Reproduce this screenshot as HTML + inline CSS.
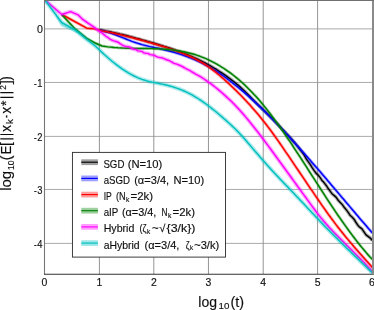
<!DOCTYPE html>
<html><head><meta charset="utf-8"><style>html,body{margin:0;padding:0;background:#fff;}svg{display:block;will-change:transform;}text{font-family:"Liberation Sans",sans-serif;fill:#111;stroke:#111;stroke-width:0.15px;}</style></head><body>
<svg width="374" height="310" viewBox="0 0 374 310">
<defs><filter id="bl" x="-5" y="-5" width="384" height="320" filterUnits="userSpaceOnUse"><feGaussianBlur stdDeviation="0.35"/></filter></defs><rect width="374" height="310" fill="#fff"/><g filter="url(#bl)"><rect x="-5" y="-5" width="384" height="320" fill="#fff"/>
<path d="M44.5,28.90 H373.0 M44.5,82.45 H373.0 M44.5,136.40 H373.0 M44.5,189.45 H373.0 M44.5,243.40 H373.0" stroke="#aaaaaa" stroke-width="1" fill="none"/>
<path d="M99.40,0.5 V274.2 M153.80,0.5 V274.2 M208.45,0.5 V274.2 M263.20,0.5 V274.2 M317.60,0.5 V274.2" stroke="#949494" stroke-width="1" fill="none"/>
<clipPath id="c"><rect x="44.5" y="0" width="328.1" height="274.2"/></clipPath>
<g clip-path="url(#c)" fill="none" stroke-linejoin="round" stroke-linecap="butt">
<path d="M99.4,29.8 L102.0,30.3 L104.0,30.7 L106.0,31.1 L108.0,31.4 L110.0,31.8 L112.0,32.3 L114.0,32.7 L116.0,33.1 L118.0,33.6 L120.0,34.1 L122.0,34.5 L124.0,35.0 L126.0,35.5 L128.0,36.0 L130.0,36.6 L132.0,37.1 L134.0,37.6 L136.0,38.2 L138.0,38.7 L140.0,39.3 L142.0,39.9 L144.0,40.4 L146.0,41.0 L148.0,41.6 L150.0,42.1 L152.0,42.7 L154.0,43.3 L156.0,43.9 L158.0,44.5 L160.0,45.1 L162.0,45.7 L164.0,46.4 L166.0,47.0 L168.0,47.6 L170.0,48.3 L172.0,49.0 L174.0,49.7 L176.0,50.4 L178.0,51.1 L180.0,51.8 L182.0,52.6 L184.0,53.4 L186.0,54.2 L188.0,55.0 L190.0,55.8 L192.0,56.7 L194.0,57.6 L196.0,58.5 L198.0,59.4 L200.0,60.4 L202.0,61.4 L204.0,62.4 L206.0,63.5 L208.0,64.6 L210.0,65.7 L212.0,66.8 L214.0,68.0 L216.0,69.2 L218.0,70.5 L220.0,71.8 L222.0,73.1 L224.0,74.4 L226.0,75.8 L228.0,77.3 L230.0,78.8 L232.0,80.3 L234.0,81.9 L236.0,83.5 L238.0,85.1 L240.0,86.9 L242.0,88.7 L244.0,90.5 L246.0,92.5 L248.0,94.5 L250.0,96.6 L252.0,98.7 L254.0,100.7 L256.0,102.7 L258.0,104.7 L260.0,106.6 L262.0,108.6 L264.0,110.5 L266.0,112.4 L268.0,114.4 L270.0,116.4 L272.0,118.4 L274.0,120.4 L276.0,122.5 L278.0,124.6 L280.0,126.7 L282.0,128.9 L284.0,131.0 L286.0,133.2 L288.0,135.3 L290.0,137.5 L292.0,139.7 L294.0,142.0 L296.0,144.4 L298.0,146.9 L300.0,149.6 L302.0,152.1 L304.0,154.7 L306.0,158.4 L308.0,161.4 L310.0,164.1 L312.0,167.3 L314.0,170.3 L316.0,173.1 L318.0,175.0 L320.0,177.4 L322.0,180.4 L324.0,182.6 L326.0,185.2 L328.0,188.2 L330.0,190.9 L332.0,193.7 L334.0,195.4 L336.0,197.1 L338.0,200.0 L340.0,202.3 L342.0,204.2 L344.0,207.1 L346.0,209.4 L348.0,212.1 L350.0,215.2 L352.0,217.0 L354.0,219.2 L356.0,222.5 L358.0,225.4 L360.0,227.4 L362.0,228.9 L364.0,231.9 L366.0,234.8 L368.0,236.3 L370.0,237.8 L372.0,240.1 L372.4,240.5" stroke="#000000" stroke-opacity="0.32" stroke-width="3.6"/>
<path d="M99.4,29.8 L102.0,30.3 L104.0,30.7 L106.0,31.1 L108.0,31.4 L110.0,31.8 L112.0,32.3 L114.0,32.7 L116.0,33.1 L118.0,33.6 L120.0,34.1 L122.0,34.5 L124.0,35.0 L126.0,35.5 L128.0,36.0 L130.0,36.6 L132.0,37.1 L134.0,37.6 L136.0,38.2 L138.0,38.7 L140.0,39.3 L142.0,39.9 L144.0,40.4 L146.0,41.0 L148.0,41.6 L150.0,42.1 L152.0,42.7 L154.0,43.3 L156.0,43.9 L158.0,44.5 L160.0,45.1 L162.0,45.7 L164.0,46.4 L166.0,47.0 L168.0,47.6 L170.0,48.3 L172.0,49.0 L174.0,49.7 L176.0,50.4 L178.0,51.1 L180.0,51.8 L182.0,52.6 L184.0,53.4 L186.0,54.2 L188.0,55.0 L190.0,55.8 L192.0,56.7 L194.0,57.6 L196.0,58.5 L198.0,59.4 L200.0,60.4 L202.0,61.4 L204.0,62.4 L206.0,63.5 L208.0,64.6 L210.0,65.7 L212.0,66.8 L214.0,68.0 L216.0,69.2 L218.0,70.5 L220.0,71.8 L222.0,73.1 L224.0,74.4 L226.0,75.8 L228.0,77.3 L230.0,78.8 L232.0,80.3 L234.0,81.9 L236.0,83.5 L238.0,85.1 L240.0,86.9 L242.0,88.7 L244.0,90.5 L246.0,92.5 L248.0,94.5 L250.0,96.6 L252.0,98.7 L254.0,100.7 L256.0,102.7 L258.0,104.7 L260.0,106.6 L262.0,108.6 L264.0,110.5 L266.0,112.4 L268.0,114.4 L270.0,116.4 L272.0,118.4 L274.0,120.4 L276.0,122.5 L278.0,124.6 L280.0,126.7 L282.0,128.9 L284.0,131.0 L286.0,133.2 L288.0,135.3 L290.0,137.5 L292.0,139.7 L294.0,142.0 L296.0,144.4 L298.0,146.9 L300.0,149.6 L302.0,152.1 L304.0,154.7 L306.0,158.4 L308.0,161.4 L310.0,164.1 L312.0,167.3 L314.0,170.3 L316.0,173.1 L318.0,175.0 L320.0,177.4 L322.0,180.4 L324.0,182.6 L326.0,185.2 L328.0,188.2 L330.0,190.9 L332.0,193.7 L334.0,195.4 L336.0,197.1 L338.0,200.0 L340.0,202.3 L342.0,204.2 L344.0,207.1 L346.0,209.4 L348.0,212.1 L350.0,215.2 L352.0,217.0 L354.0,219.2 L356.0,222.5 L358.0,225.4 L360.0,227.4 L362.0,228.9 L364.0,231.9 L366.0,234.8 L368.0,236.3 L370.0,237.8 L372.0,240.1 L372.4,240.5" stroke="#000000" stroke-width="1.45"/>
<path d="M99.4,30.3 L102.0,30.7 L104.0,31.1 L106.0,31.7 L108.0,32.2 L110.0,32.9 L112.0,33.6 L114.0,34.3 L116.0,35.0 L118.0,35.8 L120.0,36.6 L122.0,37.4 L124.0,38.2 L126.0,39.0 L128.0,39.8 L130.0,40.6 L132.0,41.4 L134.0,42.1 L136.0,42.8 L138.0,43.4 L140.0,44.0 L142.0,44.6 L144.0,45.1 L146.0,45.6 L148.0,46.1 L150.0,46.6 L152.0,47.0 L154.0,47.5 L156.0,47.9 L158.0,48.3 L160.0,48.8 L162.0,49.2 L164.0,49.7 L166.0,50.2 L168.0,50.7 L170.0,51.2 L172.0,51.7 L174.0,52.3 L176.0,52.9 L178.0,53.5 L180.0,54.1 L182.0,54.8 L184.0,55.5 L186.0,56.2 L188.0,57.0 L190.0,57.7 L192.0,58.6 L194.0,59.4 L196.0,60.3 L198.0,61.2 L200.0,62.1 L202.0,63.1 L204.0,64.2 L206.0,65.2 L208.0,66.3 L210.0,67.5 L212.0,68.7 L214.0,69.9 L216.0,71.1 L218.0,72.4 L220.0,73.8 L222.0,75.1 L224.0,76.5 L226.0,78.0 L228.0,79.5 L230.0,81.0 L232.0,82.5 L234.0,84.1 L236.0,85.7 L238.0,87.3 L240.0,88.9 L242.0,90.6 L244.0,92.3 L246.0,94.1 L248.0,95.8 L250.0,97.6 L252.0,99.4 L254.0,101.2 L256.0,103.1 L258.0,105.0 L260.0,106.9 L262.0,108.8 L264.0,110.7 L266.0,112.7 L268.0,114.7 L270.0,116.7 L272.0,118.7 L274.0,120.7 L276.0,122.8 L278.0,124.9 L280.0,127.0 L282.0,129.1 L284.0,131.2 L286.0,133.4 L288.0,135.5 L290.0,137.7 L292.0,139.9 L294.0,142.1 L296.0,144.3 L298.0,146.5 L300.0,148.7 L302.0,151.0 L304.0,153.2 L306.0,155.5 L308.0,157.8 L310.0,160.1 L312.0,162.4 L314.0,164.7 L316.0,167.0 L318.0,169.3 L320.0,171.6 L322.0,173.9 L324.0,176.3 L326.0,178.6 L328.0,181.0 L330.0,183.3 L332.0,185.7 L334.0,188.0 L336.0,190.4 L338.0,192.7 L340.0,195.1 L342.0,197.5 L344.0,199.8 L346.0,202.2 L348.0,204.5 L350.0,206.9 L352.0,209.3 L354.0,211.6 L356.0,214.0 L358.0,216.3 L360.0,218.7 L362.0,221.0 L364.0,223.3 L366.0,225.6 L368.0,228.0 L370.0,230.3 L372.0,232.6 L372.4,233.0" stroke="#0000ff" stroke-opacity="0.32" stroke-width="3.2"/>
<path d="M99.4,30.3 L102.0,30.7 L104.0,31.1 L106.0,31.7 L108.0,32.2 L110.0,32.9 L112.0,33.6 L114.0,34.3 L116.0,35.0 L118.0,35.8 L120.0,36.6 L122.0,37.4 L124.0,38.2 L126.0,39.0 L128.0,39.8 L130.0,40.6 L132.0,41.4 L134.0,42.1 L136.0,42.8 L138.0,43.4 L140.0,44.0 L142.0,44.6 L144.0,45.1 L146.0,45.6 L148.0,46.1 L150.0,46.6 L152.0,47.0 L154.0,47.5 L156.0,47.9 L158.0,48.3 L160.0,48.8 L162.0,49.2 L164.0,49.7 L166.0,50.2 L168.0,50.7 L170.0,51.2 L172.0,51.7 L174.0,52.3 L176.0,52.9 L178.0,53.5 L180.0,54.1 L182.0,54.8 L184.0,55.5 L186.0,56.2 L188.0,57.0 L190.0,57.7 L192.0,58.6 L194.0,59.4 L196.0,60.3 L198.0,61.2 L200.0,62.1 L202.0,63.1 L204.0,64.2 L206.0,65.2 L208.0,66.3 L210.0,67.5 L212.0,68.7 L214.0,69.9 L216.0,71.1 L218.0,72.4 L220.0,73.8 L222.0,75.1 L224.0,76.5 L226.0,78.0 L228.0,79.5 L230.0,81.0 L232.0,82.5 L234.0,84.1 L236.0,85.7 L238.0,87.3 L240.0,88.9 L242.0,90.6 L244.0,92.3 L246.0,94.1 L248.0,95.8 L250.0,97.6 L252.0,99.4 L254.0,101.2 L256.0,103.1 L258.0,105.0 L260.0,106.9 L262.0,108.8 L264.0,110.7 L266.0,112.7 L268.0,114.7 L270.0,116.7 L272.0,118.7 L274.0,120.7 L276.0,122.8 L278.0,124.9 L280.0,127.0 L282.0,129.1 L284.0,131.2 L286.0,133.4 L288.0,135.5 L290.0,137.7 L292.0,139.9 L294.0,142.1 L296.0,144.3 L298.0,146.5 L300.0,148.7 L302.0,151.0 L304.0,153.2 L306.0,155.5 L308.0,157.8 L310.0,160.1 L312.0,162.4 L314.0,164.7 L316.0,167.0 L318.0,169.3 L320.0,171.6 L322.0,173.9 L324.0,176.3 L326.0,178.6 L328.0,181.0 L330.0,183.3 L332.0,185.7 L334.0,188.0 L336.0,190.4 L338.0,192.7 L340.0,195.1 L342.0,197.5 L344.0,199.8 L346.0,202.2 L348.0,204.5 L350.0,206.9 L352.0,209.3 L354.0,211.6 L356.0,214.0 L358.0,216.3 L360.0,218.7 L362.0,221.0 L364.0,223.3 L366.0,225.6 L368.0,228.0 L370.0,230.3 L372.0,232.6 L372.4,233.0" stroke="#0000ff" stroke-width="1.45"/>
<path d="M61.8,14.5 L86.8,28.2 L95.0,28.9 L99.4,30.3 L102.0,30.9 L104.0,31.2 L106.0,31.6 L108.0,32.0 L110.0,32.4 L112.0,32.8 L114.0,33.2 L116.0,33.7 L118.0,34.1 L120.0,34.6 L122.0,35.1 L124.0,35.6 L126.0,36.1 L128.0,36.6 L130.0,37.1 L132.0,37.6 L134.0,38.2 L136.0,38.7 L138.0,39.3 L140.0,39.8 L142.0,40.4 L144.0,40.9 L146.0,41.5 L148.0,42.1 L150.0,42.6 L152.0,43.2 L154.0,43.8 L156.0,44.4 L158.0,45.0 L160.0,45.6 L162.0,46.2 L164.0,46.8 L166.0,47.4 L168.0,48.1 L170.0,48.7 L172.0,49.4 L174.0,50.1 L176.0,50.8 L178.0,51.6 L180.0,52.3 L182.0,53.1 L184.0,53.9 L186.0,54.8 L188.0,55.6 L190.0,56.5 L192.0,57.5 L194.0,58.4 L196.0,59.4 L198.0,60.5 L200.0,61.6 L202.0,62.7 L204.0,63.9 L206.0,65.2 L208.0,66.5 L210.0,67.9 L212.0,69.4 L214.0,70.9 L216.0,72.5 L218.0,74.2 L220.0,75.8 L222.0,77.6 L224.0,79.3 L226.0,81.1 L228.0,82.9 L230.0,84.8 L232.0,86.7 L234.0,88.6 L236.0,90.5 L238.0,92.5 L240.0,94.5 L242.0,96.6 L244.0,98.7 L246.0,100.8 L248.0,102.9 L250.0,105.1 L252.0,107.4 L254.0,109.7 L256.0,112.0 L258.0,114.3 L260.0,116.8 L262.0,119.2 L264.0,121.7 L266.0,124.3 L268.0,126.9 L270.0,129.5 L272.0,132.2 L274.0,135.0 L276.0,137.8 L278.0,140.7 L280.0,143.5 L282.0,146.4 L284.0,149.4 L286.0,152.3 L288.0,155.2 L290.0,158.2 L292.0,161.1 L294.0,164.1 L296.0,167.1 L298.0,170.0 L300.0,173.0 L302.0,175.9 L304.0,178.9 L306.0,181.9 L308.0,184.8 L310.0,187.8 L312.0,190.7 L314.0,193.7 L316.0,196.6 L318.0,199.5 L320.0,202.4 L322.0,205.3 L324.0,208.1 L326.0,211.0 L328.0,213.8 L330.0,216.5 L332.0,219.3 L334.0,221.9 L336.0,224.6 L338.0,227.2 L340.0,229.8 L342.0,232.3 L344.0,234.8 L346.0,237.2 L348.0,239.6 L350.0,242.0 L352.0,244.3 L354.0,246.7 L356.0,249.0 L358.0,251.3 L360.0,253.5 L362.0,255.8 L364.0,258.1 L366.0,260.3 L368.0,262.6 L370.0,264.8 L372.0,267.1 L372.5,267.7" stroke="#ff0000" stroke-opacity="0.32" stroke-width="3.2"/>
<path d="M61.8,14.5 L86.8,28.2 L95.0,28.9 L99.4,30.3 L102.0,30.9 L104.0,31.2 L106.0,31.6 L108.0,32.0 L110.0,32.4 L112.0,32.8 L114.0,33.2 L116.0,33.7 L118.0,34.1 L120.0,34.6 L122.0,35.1 L124.0,35.6 L126.0,36.1 L128.0,36.6 L130.0,37.1 L132.0,37.6 L134.0,38.2 L136.0,38.7 L138.0,39.3 L140.0,39.8 L142.0,40.4 L144.0,40.9 L146.0,41.5 L148.0,42.1 L150.0,42.6 L152.0,43.2 L154.0,43.8 L156.0,44.4 L158.0,45.0 L160.0,45.6 L162.0,46.2 L164.0,46.8 L166.0,47.4 L168.0,48.1 L170.0,48.7 L172.0,49.4 L174.0,50.1 L176.0,50.8 L178.0,51.6 L180.0,52.3 L182.0,53.1 L184.0,53.9 L186.0,54.8 L188.0,55.6 L190.0,56.5 L192.0,57.5 L194.0,58.4 L196.0,59.4 L198.0,60.5 L200.0,61.6 L202.0,62.7 L204.0,63.9 L206.0,65.2 L208.0,66.5 L210.0,67.9 L212.0,69.4 L214.0,70.9 L216.0,72.5 L218.0,74.2 L220.0,75.8 L222.0,77.6 L224.0,79.3 L226.0,81.1 L228.0,82.9 L230.0,84.8 L232.0,86.7 L234.0,88.6 L236.0,90.5 L238.0,92.5 L240.0,94.5 L242.0,96.6 L244.0,98.7 L246.0,100.8 L248.0,102.9 L250.0,105.1 L252.0,107.4 L254.0,109.7 L256.0,112.0 L258.0,114.3 L260.0,116.8 L262.0,119.2 L264.0,121.7 L266.0,124.3 L268.0,126.9 L270.0,129.5 L272.0,132.2 L274.0,135.0 L276.0,137.8 L278.0,140.7 L280.0,143.5 L282.0,146.4 L284.0,149.4 L286.0,152.3 L288.0,155.2 L290.0,158.2 L292.0,161.1 L294.0,164.1 L296.0,167.1 L298.0,170.0 L300.0,173.0 L302.0,175.9 L304.0,178.9 L306.0,181.9 L308.0,184.8 L310.0,187.8 L312.0,190.7 L314.0,193.7 L316.0,196.6 L318.0,199.5 L320.0,202.4 L322.0,205.3 L324.0,208.1 L326.0,211.0 L328.0,213.8 L330.0,216.5 L332.0,219.3 L334.0,221.9 L336.0,224.6 L338.0,227.2 L340.0,229.8 L342.0,232.3 L344.0,234.8 L346.0,237.2 L348.0,239.6 L350.0,242.0 L352.0,244.3 L354.0,246.7 L356.0,249.0 L358.0,251.3 L360.0,253.5 L362.0,255.8 L364.0,258.1 L366.0,260.3 L368.0,262.6 L370.0,264.8 L372.0,267.1 L372.5,267.7" stroke="#ff0000" stroke-width="1.45"/>
<path d="M61.8,14.8 L74.7,28.5 L86.8,38.4 L95.0,43.0 L102.0,46.0 L104.0,46.3 L106.0,46.6 L108.0,46.9 L110.0,47.1 L112.0,47.3 L114.0,47.5 L116.0,47.6 L118.0,47.8 L120.0,47.9 L122.0,48.0 L124.0,48.1 L126.0,48.2 L128.0,48.2 L130.0,48.3 L132.0,48.3 L134.0,48.4 L136.0,48.4 L138.0,48.4 L140.0,48.5 L142.0,48.5 L144.0,48.5 L146.0,48.5 L148.0,48.6 L150.0,48.6 L152.0,48.6 L154.0,48.7 L156.0,48.8 L158.0,48.8 L160.0,48.9 L162.0,49.1 L164.0,49.2 L166.0,49.3 L168.0,49.5 L170.0,49.7 L172.0,49.9 L174.0,50.1 L176.0,50.4 L178.0,50.7 L180.0,51.0 L182.0,51.4 L184.0,51.8 L186.0,52.2 L188.0,52.7 L190.0,53.2 L192.0,53.7 L194.0,54.3 L196.0,54.9 L198.0,55.6 L200.0,56.3 L202.0,57.1 L204.0,57.9 L206.0,58.7 L208.0,59.6 L210.0,60.6 L212.0,61.6 L214.0,62.6 L216.0,63.7 L218.0,64.8 L220.0,66.0 L222.0,67.3 L224.0,68.5 L226.0,69.9 L228.0,71.3 L230.0,72.7 L232.0,74.2 L234.0,75.8 L236.0,77.4 L238.0,79.0 L240.0,80.7 L242.0,82.5 L244.0,84.3 L246.0,86.2 L248.0,88.2 L250.0,90.2 L252.0,92.2 L254.0,94.4 L256.0,96.5 L258.0,98.8 L260.0,101.1 L262.0,103.5 L264.0,105.9 L266.0,108.4 L268.0,110.9 L270.0,113.5 L272.0,116.2 L274.0,118.8 L276.0,121.6 L278.0,124.3 L280.0,127.2 L282.0,130.0 L284.0,132.9 L286.0,135.8 L288.0,138.8 L290.0,141.7 L292.0,144.7 L294.0,147.8 L296.0,150.8 L298.0,153.9 L300.0,156.9 L302.0,160.0 L304.0,163.1 L306.0,166.2 L308.0,169.3 L310.0,172.5 L312.0,175.6 L314.0,178.7 L316.0,181.8 L318.0,184.9 L320.0,188.0 L322.0,191.1 L324.0,194.2 L326.0,197.3 L328.0,200.3 L330.0,203.4 L332.0,206.4 L334.0,209.4 L336.0,212.3 L338.0,215.3 L340.0,218.2 L342.0,221.0 L344.0,223.9 L346.0,226.7 L348.0,229.5 L350.0,232.2 L352.0,234.9 L354.0,237.5 L356.0,240.1 L358.0,242.7 L360.0,245.2 L362.0,247.6 L364.0,250.0 L366.0,252.4 L368.0,254.7 L370.0,256.9 L372.0,259.0 L372.5,259.6" stroke="#008000" stroke-opacity="0.32" stroke-width="3.0"/>
<path d="M61.8,14.8 L74.7,28.5 L86.8,38.4 L95.0,43.0 L102.0,46.0 L104.0,46.3 L106.0,46.6 L108.0,46.9 L110.0,47.1 L112.0,47.3 L114.0,47.5 L116.0,47.6 L118.0,47.8 L120.0,47.9 L122.0,48.0 L124.0,48.1 L126.0,48.2 L128.0,48.2 L130.0,48.3 L132.0,48.3 L134.0,48.4 L136.0,48.4 L138.0,48.4 L140.0,48.5 L142.0,48.5 L144.0,48.5 L146.0,48.5 L148.0,48.6 L150.0,48.6 L152.0,48.6 L154.0,48.7 L156.0,48.8 L158.0,48.8 L160.0,48.9 L162.0,49.1 L164.0,49.2 L166.0,49.3 L168.0,49.5 L170.0,49.7 L172.0,49.9 L174.0,50.1 L176.0,50.4 L178.0,50.7 L180.0,51.0 L182.0,51.4 L184.0,51.8 L186.0,52.2 L188.0,52.7 L190.0,53.2 L192.0,53.7 L194.0,54.3 L196.0,54.9 L198.0,55.6 L200.0,56.3 L202.0,57.1 L204.0,57.9 L206.0,58.7 L208.0,59.6 L210.0,60.6 L212.0,61.6 L214.0,62.6 L216.0,63.7 L218.0,64.8 L220.0,66.0 L222.0,67.3 L224.0,68.5 L226.0,69.9 L228.0,71.3 L230.0,72.7 L232.0,74.2 L234.0,75.8 L236.0,77.4 L238.0,79.0 L240.0,80.7 L242.0,82.5 L244.0,84.3 L246.0,86.2 L248.0,88.2 L250.0,90.2 L252.0,92.2 L254.0,94.4 L256.0,96.5 L258.0,98.8 L260.0,101.1 L262.0,103.5 L264.0,105.9 L266.0,108.4 L268.0,110.9 L270.0,113.5 L272.0,116.2 L274.0,118.8 L276.0,121.6 L278.0,124.3 L280.0,127.2 L282.0,130.0 L284.0,132.9 L286.0,135.8 L288.0,138.8 L290.0,141.7 L292.0,144.7 L294.0,147.8 L296.0,150.8 L298.0,153.9 L300.0,156.9 L302.0,160.0 L304.0,163.1 L306.0,166.2 L308.0,169.3 L310.0,172.5 L312.0,175.6 L314.0,178.7 L316.0,181.8 L318.0,184.9 L320.0,188.0 L322.0,191.1 L324.0,194.2 L326.0,197.3 L328.0,200.3 L330.0,203.4 L332.0,206.4 L334.0,209.4 L336.0,212.3 L338.0,215.3 L340.0,218.2 L342.0,221.0 L344.0,223.9 L346.0,226.7 L348.0,229.5 L350.0,232.2 L352.0,234.9 L354.0,237.5 L356.0,240.1 L358.0,242.7 L360.0,245.2 L362.0,247.6 L364.0,250.0 L366.0,252.4 L368.0,254.7 L370.0,256.9 L372.0,259.0 L372.5,259.6" stroke="#008000" stroke-width="1.45"/>
<path d="M44.9,0.0 L61.8,14.5 L70.6,11.6 L77.9,14.8 L82.7,19.4 L88.4,23.4 L93.2,26.6 L99.4,31.3 L102.0,33.0 L104.0,34.6 L106.0,36.3 L108.0,37.5 L110.0,39.2 L112.0,40.2 L114.0,40.9 L116.0,41.5 L118.0,42.2 L120.0,43.6 L122.0,44.8 L124.0,45.9 L126.0,46.5 L128.0,46.6 L130.0,47.2 L132.0,48.7 L134.0,49.3 L136.0,49.6 L138.0,50.9 L140.0,51.1 L142.0,51.5 L144.0,52.9 L146.0,53.2 L148.0,53.4 L150.0,54.6 L152.0,54.9 L154.0,55.2 L156.0,56.4 L158.0,57.1 L160.0,57.6 L162.0,57.8 L164.0,58.6 L166.0,59.5 L168.0,60.2 L170.0,61.0 L172.0,62.2 L174.0,63.4 L176.0,63.9 L178.0,64.6 L180.0,65.5 L182.0,66.4 L184.0,67.5 L186.0,68.7 L188.0,69.7 L190.0,70.6 L192.0,72.0 L194.0,73.0 L196.0,74.3 L198.0,75.3 L200.0,76.4 L202.0,77.7 L204.0,79.0 L206.0,80.4 L208.0,81.8 L210.0,83.2 L212.0,84.7 L214.0,86.2 L216.0,87.8 L218.0,89.4 L220.0,91.1 L222.0,92.8 L224.0,94.6 L226.0,96.4 L228.0,98.2 L230.0,100.1 L232.0,102.1 L234.0,104.1 L236.0,106.2 L238.0,108.3 L240.0,110.5 L242.0,112.7 L244.0,115.0 L246.0,117.4 L248.0,119.8 L250.0,122.2 L252.0,124.7 L254.0,127.2 L256.0,129.7 L258.0,132.3 L260.0,134.9 L262.0,137.5 L264.0,140.2 L266.0,142.9 L268.0,145.6 L270.0,148.3 L272.0,151.0 L274.0,153.7 L276.0,156.5 L278.0,159.2 L280.0,162.0 L282.0,164.7 L284.0,167.5 L286.0,170.2 L288.0,173.0 L290.0,175.7 L292.0,178.5 L294.0,181.3 L296.0,184.0 L298.0,186.8 L300.0,189.5 L302.0,192.3 L304.0,195.1 L306.0,197.8 L308.0,200.6 L310.0,203.4 L312.0,206.1 L314.0,208.8 L316.0,211.5 L318.0,214.1 L320.0,216.6 L322.0,219.1 L324.0,221.4 L326.0,223.8 L328.0,226.0 L330.0,228.2 L332.0,230.3 L334.0,232.4 L336.0,234.4 L338.0,236.4 L340.0,238.4 L342.0,240.4 L344.0,242.4 L346.0,244.4 L348.0,246.4 L350.0,248.4 L352.0,250.4 L354.0,252.4 L356.0,254.4 L358.0,256.4 L360.0,258.4 L362.0,260.5 L364.0,262.6 L366.0,264.7 L368.0,266.9 L370.0,269.1 L372.0,271.3 L372.5,271.8" stroke="#ff00ff" stroke-opacity="0.32" stroke-width="4.0"/>
<path d="M44.9,0.0 L61.8,14.5 L70.6,11.6 L77.9,14.8 L82.7,19.4 L88.4,23.4 L93.2,26.6 L99.4,31.3 L102.0,33.0 L104.0,34.6 L106.0,36.3 L108.0,37.5 L110.0,39.2 L112.0,40.2 L114.0,40.9 L116.0,41.5 L118.0,42.2 L120.0,43.6 L122.0,44.8 L124.0,45.9 L126.0,46.5 L128.0,46.6 L130.0,47.2 L132.0,48.7 L134.0,49.3 L136.0,49.6 L138.0,50.9 L140.0,51.1 L142.0,51.5 L144.0,52.9 L146.0,53.2 L148.0,53.4 L150.0,54.6 L152.0,54.9 L154.0,55.2 L156.0,56.4 L158.0,57.1 L160.0,57.6 L162.0,57.8 L164.0,58.6 L166.0,59.5 L168.0,60.2 L170.0,61.0 L172.0,62.2 L174.0,63.4 L176.0,63.9 L178.0,64.6 L180.0,65.5 L182.0,66.4 L184.0,67.5 L186.0,68.7 L188.0,69.7 L190.0,70.6 L192.0,72.0 L194.0,73.0 L196.0,74.3 L198.0,75.3 L200.0,76.4 L202.0,77.7 L204.0,79.0 L206.0,80.4 L208.0,81.8 L210.0,83.2 L212.0,84.7 L214.0,86.2 L216.0,87.8 L218.0,89.4 L220.0,91.1 L222.0,92.8 L224.0,94.6 L226.0,96.4 L228.0,98.2 L230.0,100.1 L232.0,102.1 L234.0,104.1 L236.0,106.2 L238.0,108.3 L240.0,110.5 L242.0,112.7 L244.0,115.0 L246.0,117.4 L248.0,119.8 L250.0,122.2 L252.0,124.7 L254.0,127.2 L256.0,129.7 L258.0,132.3 L260.0,134.9 L262.0,137.5 L264.0,140.2 L266.0,142.9 L268.0,145.6 L270.0,148.3 L272.0,151.0 L274.0,153.7 L276.0,156.5 L278.0,159.2 L280.0,162.0 L282.0,164.7 L284.0,167.5 L286.0,170.2 L288.0,173.0 L290.0,175.7 L292.0,178.5 L294.0,181.3 L296.0,184.0 L298.0,186.8 L300.0,189.5 L302.0,192.3 L304.0,195.1 L306.0,197.8 L308.0,200.6 L310.0,203.4 L312.0,206.1 L314.0,208.8 L316.0,211.5 L318.0,214.1 L320.0,216.6 L322.0,219.1 L324.0,221.4 L326.0,223.8 L328.0,226.0 L330.0,228.2 L332.0,230.3 L334.0,232.4 L336.0,234.4 L338.0,236.4 L340.0,238.4 L342.0,240.4 L344.0,242.4 L346.0,244.4 L348.0,246.4 L350.0,248.4 L352.0,250.4 L354.0,252.4 L356.0,254.4 L358.0,256.4 L360.0,258.4 L362.0,260.5 L364.0,262.6 L366.0,264.7 L368.0,266.9 L370.0,269.1 L372.0,271.3 L372.5,271.8" stroke="#ff00ff" stroke-width="1.45"/>
<path d="M44.9,0.0 L61.8,22.6 L74.7,29.8 L86.8,39.5 L95.0,45.8 L99.4,49.8 L102.0,52.4 L104.0,54.3 L106.0,56.0 L108.0,57.8 L110.0,59.5 L112.0,61.2 L114.0,62.8 L116.0,64.4 L118.0,65.9 L120.0,67.4 L122.0,68.8 L124.0,70.1 L126.0,71.4 L128.0,72.7 L130.0,73.8 L132.0,74.9 L134.0,76.0 L136.0,76.9 L138.0,77.8 L140.0,78.6 L142.0,79.4 L144.0,80.0 L146.0,80.6 L148.0,81.2 L150.0,81.6 L152.0,82.1 L154.0,82.5 L156.0,82.9 L158.0,83.3 L160.0,83.7 L162.0,84.1 L164.0,84.5 L166.0,85.0 L168.0,85.5 L170.0,86.0 L172.0,86.6 L174.0,87.2 L176.0,87.9 L178.0,88.6 L180.0,89.3 L182.0,90.1 L184.0,91.0 L186.0,91.9 L188.0,92.8 L190.0,93.8 L192.0,94.9 L194.0,96.1 L196.0,97.3 L198.0,98.5 L200.0,99.8 L202.0,101.2 L204.0,102.6 L206.0,104.0 L208.0,105.5 L210.0,107.0 L212.0,108.6 L214.0,110.2 L216.0,111.8 L218.0,113.5 L220.0,115.2 L222.0,116.9 L224.0,118.7 L226.0,120.4 L228.0,122.2 L230.0,124.0 L232.0,125.9 L234.0,127.8 L236.0,129.7 L238.0,131.8 L240.0,133.9 L242.0,136.1 L244.0,138.3 L246.0,140.6 L248.0,142.9 L250.0,145.2 L252.0,147.6 L254.0,149.9 L256.0,152.3 L258.0,154.6 L260.0,157.0 L262.0,159.3 L264.0,161.6 L266.0,163.8 L268.0,166.0 L270.0,168.2 L272.0,170.4 L274.0,172.6 L276.0,174.7 L278.0,176.8 L280.0,179.0 L282.0,181.1 L284.0,183.2 L286.0,185.3 L288.0,187.3 L290.0,189.4 L292.0,191.5 L294.0,193.6 L296.0,195.7 L298.0,197.8 L300.0,199.9 L302.0,202.0 L304.0,204.1 L306.0,206.3 L308.0,208.4 L310.0,210.5 L312.0,212.7 L314.0,214.8 L316.0,216.9 L318.0,219.0 L320.0,221.2 L322.0,223.3 L324.0,225.4 L326.0,227.4 L328.0,229.5 L330.0,231.6 L332.0,233.6 L334.0,235.6 L336.0,237.6 L338.0,239.6 L340.0,241.6 L342.0,243.5 L344.0,245.5 L346.0,247.4 L348.0,249.4 L350.0,251.3 L352.0,253.2 L354.0,255.2 L356.0,257.1 L358.0,259.0 L360.0,260.9 L362.0,262.9 L364.0,264.8 L366.0,266.7 L368.0,268.7 L370.0,270.6 L372.0,272.6 L372.5,273.1" stroke="#00bfbf" stroke-opacity="0.32" stroke-width="4.2"/>
<path d="M44.9,0.0 L61.8,22.6 L74.7,29.8 L86.8,39.5 L95.0,45.8 L99.4,49.8 L102.0,52.4 L104.0,54.3 L106.0,56.0 L108.0,57.8 L110.0,59.5 L112.0,61.2 L114.0,62.8 L116.0,64.4 L118.0,65.9 L120.0,67.4 L122.0,68.8 L124.0,70.1 L126.0,71.4 L128.0,72.7 L130.0,73.8 L132.0,74.9 L134.0,76.0 L136.0,76.9 L138.0,77.8 L140.0,78.6 L142.0,79.4 L144.0,80.0 L146.0,80.6 L148.0,81.2 L150.0,81.6 L152.0,82.1 L154.0,82.5 L156.0,82.9 L158.0,83.3 L160.0,83.7 L162.0,84.1 L164.0,84.5 L166.0,85.0 L168.0,85.5 L170.0,86.0 L172.0,86.6 L174.0,87.2 L176.0,87.9 L178.0,88.6 L180.0,89.3 L182.0,90.1 L184.0,91.0 L186.0,91.9 L188.0,92.8 L190.0,93.8 L192.0,94.9 L194.0,96.1 L196.0,97.3 L198.0,98.5 L200.0,99.8 L202.0,101.2 L204.0,102.6 L206.0,104.0 L208.0,105.5 L210.0,107.0 L212.0,108.6 L214.0,110.2 L216.0,111.8 L218.0,113.5 L220.0,115.2 L222.0,116.9 L224.0,118.7 L226.0,120.4 L228.0,122.2 L230.0,124.0 L232.0,125.9 L234.0,127.8 L236.0,129.7 L238.0,131.8 L240.0,133.9 L242.0,136.1 L244.0,138.3 L246.0,140.6 L248.0,142.9 L250.0,145.2 L252.0,147.6 L254.0,149.9 L256.0,152.3 L258.0,154.6 L260.0,157.0 L262.0,159.3 L264.0,161.6 L266.0,163.8 L268.0,166.0 L270.0,168.2 L272.0,170.4 L274.0,172.6 L276.0,174.7 L278.0,176.8 L280.0,179.0 L282.0,181.1 L284.0,183.2 L286.0,185.3 L288.0,187.3 L290.0,189.4 L292.0,191.5 L294.0,193.6 L296.0,195.7 L298.0,197.8 L300.0,199.9 L302.0,202.0 L304.0,204.1 L306.0,206.3 L308.0,208.4 L310.0,210.5 L312.0,212.7 L314.0,214.8 L316.0,216.9 L318.0,219.0 L320.0,221.2 L322.0,223.3 L324.0,225.4 L326.0,227.4 L328.0,229.5 L330.0,231.6 L332.0,233.6 L334.0,235.6 L336.0,237.6 L338.0,239.6 L340.0,241.6 L342.0,243.5 L344.0,245.5 L346.0,247.4 L348.0,249.4 L350.0,251.3 L352.0,253.2 L354.0,255.2 L356.0,257.1 L358.0,259.0 L360.0,260.9 L362.0,262.9 L364.0,264.8 L366.0,266.7 L368.0,268.7 L370.0,270.6 L372.0,272.6 L372.5,273.1" stroke="#00bfbf" stroke-width="1.45"/>
<path d="M56,14 L61.8,21.6 L71.4,26.4 L82,33.4 L84,36.6 L71.4,30.6 L61.2,26.6 L56,17 Z" fill="#00bfbf" fill-opacity="0.3" stroke="none"/>
</g>
<path d="M44.5,0 V274.2" stroke="#777" stroke-width="1.1" fill="none"/>
<path d="M44.0,274.2 H374" stroke="#333" stroke-width="1.1" fill="none"/>
<rect x="372" y="0" width="2" height="274.7" fill="#8a8a8a"/>
<rect x="44.0" y="0" width="330.0" height="1" fill="#707070"/>
<g style="opacity:0.999">
<rect x="72.45" y="152.4" width="153.05" height="104.70000000000002" fill="#fff" stroke="#333" stroke-width="0.95"/>
<path d="M81.3,162.2 H97.9" stroke="#000000" stroke-opacity="0.38" stroke-width="5.8"/>
<path d="M81.3,162.2 H97.9" stroke="#000000" stroke-width="1.15"/>
<text x="103.4" y="168.1" font-size="10.5" textLength="21.0" lengthAdjust="spacingAndGlyphs">SGD</text>
<text x="127.7" y="168.1" font-size="10.5" textLength="34.6" lengthAdjust="spacingAndGlyphs">(N=10)</text>
<path d="M81.3,178.4 H97.9" stroke="#0000ff" stroke-opacity="0.38" stroke-width="5.8"/>
<path d="M81.3,178.4 H97.9" stroke="#0000ff" stroke-width="1.15"/>
<text x="103.7" y="184.2" font-size="10.5" textLength="26.3" lengthAdjust="spacingAndGlyphs">aSGD</text>
<text x="134.2" y="184.2" font-size="10.5" textLength="35.0" lengthAdjust="spacingAndGlyphs">(α=3/4,</text>
<text x="173.5" y="184.2" font-size="10.5" textLength="30.7" lengthAdjust="spacingAndGlyphs">N=10)</text>
<path d="M81.3,194.6 H97.9" stroke="#ff0000" stroke-opacity="0.38" stroke-width="5.8"/>
<path d="M81.3,194.6 H97.9" stroke="#ff0000" stroke-width="1.15"/>
<text x="103.7" y="200.3" font-size="10.5" textLength="8.1" lengthAdjust="spacingAndGlyphs">IP</text>
<text x="116.0" y="200.3" font-size="10.5" textLength="9.7" lengthAdjust="spacingAndGlyphs">(N</text>
<text x="126.1" y="202.1" font-size="7.3" textLength="3.3" lengthAdjust="spacingAndGlyphs">k</text>
<text x="130.5" y="200.3" font-size="10.5" textLength="22.6" lengthAdjust="spacingAndGlyphs">=2k)</text>
<path d="M81.3,210.7 H97.9" stroke="#008000" stroke-opacity="0.38" stroke-width="5.8"/>
<path d="M81.3,210.7 H97.9" stroke="#008000" stroke-width="1.15"/>
<text x="103.7" y="216.3" font-size="10.5" textLength="14.6" lengthAdjust="spacingAndGlyphs">aIP</text>
<text x="121.9" y="216.3" font-size="10.5" textLength="34.4" lengthAdjust="spacingAndGlyphs">(α=3/4,</text>
<text x="161.6" y="216.3" font-size="10.5" textLength="6.0" lengthAdjust="spacingAndGlyphs">N</text>
<text x="168.0" y="218.1" font-size="7.3" textLength="3.4" lengthAdjust="spacingAndGlyphs">k</text>
<text x="172.6" y="216.3" font-size="10.5" textLength="22.4" lengthAdjust="spacingAndGlyphs">=2k)</text>
<path d="M81.3,226.9 H97.9" stroke="#ff00ff" stroke-opacity="0.38" stroke-width="5.8"/>
<path d="M81.3,226.9 H97.9" stroke="#ff00ff" stroke-width="1.15"/>
<text x="103.7" y="232.4" font-size="10.5" textLength="30.7" lengthAdjust="spacingAndGlyphs">Hybrid</text>
<text x="139.4" y="232.4" font-size="10.5" textLength="7.2" lengthAdjust="spacingAndGlyphs">(ζ</text>
<text x="147.1" y="234.2" font-size="7.3" textLength="3.2" lengthAdjust="spacingAndGlyphs">k</text>
<text x="151.9" y="232.4" font-size="10.5" textLength="6.7" lengthAdjust="spacingAndGlyphs">~</text>
<text x="159.2" y="232.4" font-size="10.5" textLength="6.2" lengthAdjust="spacingAndGlyphs">√</text>
<text x="166.6" y="232.4" font-size="10.5" textLength="28.9" lengthAdjust="spacingAndGlyphs">{3/k})</text>
<path d="M81.3,243.1 H97.9" stroke="#00bfbf" stroke-opacity="0.38" stroke-width="5.8"/>
<path d="M81.3,243.1 H97.9" stroke="#00bfbf" stroke-width="1.15"/>
<text x="103.7" y="248.5" font-size="10.5" textLength="36.0" lengthAdjust="spacingAndGlyphs">aHybrid</text>
<text x="144.5" y="248.5" font-size="10.5" textLength="34.9" lengthAdjust="spacingAndGlyphs">(α=3/4,</text>
<text x="185.8" y="248.5" font-size="10.5" textLength="3.9" lengthAdjust="spacingAndGlyphs">ζ</text>
<text x="189.9" y="250.3" font-size="7.3" textLength="3.1" lengthAdjust="spacingAndGlyphs">k</text>
<text x="194.2" y="248.5" font-size="10.5" textLength="25.0" lengthAdjust="spacingAndGlyphs">~3/k)</text>
<text x="41.5" y="285.7" font-size="10.5" textLength="5.8" lengthAdjust="spacingAndGlyphs">0</text>
<text x="96.5" y="285.7" font-size="10.5" textLength="5.8" lengthAdjust="spacingAndGlyphs">1</text>
<text x="150.9" y="285.7" font-size="10.5" textLength="5.8" lengthAdjust="spacingAndGlyphs">2</text>
<text x="205.5" y="285.7" font-size="10.5" textLength="5.8" lengthAdjust="spacingAndGlyphs">3</text>
<text x="260.3" y="285.7" font-size="10.5" textLength="5.8" lengthAdjust="spacingAndGlyphs">4</text>
<text x="314.7" y="285.7" font-size="10.5" textLength="5.8" lengthAdjust="spacingAndGlyphs">5</text>
<text x="369.1" y="285.7" font-size="10.5" textLength="5.8" lengthAdjust="spacingAndGlyphs">6</text>
<text x="37.0" y="32.9" font-size="10.5" textLength="5.9" lengthAdjust="spacingAndGlyphs">0</text>
<text x="34.0" y="86.9" font-size="10.5" textLength="2.7" lengthAdjust="spacingAndGlyphs">-</text>
<text x="37.3" y="86.9" font-size="10.5" textLength="5.2" lengthAdjust="spacingAndGlyphs">1</text>
<text x="34.0" y="140.9" font-size="10.5" textLength="2.7" lengthAdjust="spacingAndGlyphs">-</text>
<text x="37.3" y="140.9" font-size="10.5" textLength="5.2" lengthAdjust="spacingAndGlyphs">2</text>
<text x="34.0" y="193.7" font-size="10.5" textLength="2.7" lengthAdjust="spacingAndGlyphs">-</text>
<text x="37.3" y="193.7" font-size="10.5" textLength="5.2" lengthAdjust="spacingAndGlyphs">3</text>
<text x="34.0" y="247.7" font-size="10.5" textLength="2.7" lengthAdjust="spacingAndGlyphs">-</text>
<text x="37.3" y="247.7" font-size="10.5" textLength="5.2" lengthAdjust="spacingAndGlyphs">4</text>
<text x="198.3" y="307.0" font-size="14.0" textLength="18.7" lengthAdjust="spacingAndGlyphs">log</text>
<text x="218.6" y="309.3" font-size="9.8" textLength="10.9" lengthAdjust="spacingAndGlyphs">10</text>
<text x="230.4" y="307.0" font-size="14.0" textLength="13.6" lengthAdjust="spacingAndGlyphs">(t)</text>
<g transform="translate(10.5,190.3) rotate(-90)">
<text x="-0.4" y="0.0" font-size="14.0" textLength="19.8" lengthAdjust="spacingAndGlyphs">log</text>
<text x="20.2" y="3.0" font-size="9.8" textLength="9.8" lengthAdjust="spacingAndGlyphs">10</text>
<text x="30.0" y="0.0" font-size="14.0">(</text>
<text x="36.0" y="0.0" font-size="14.0" textLength="8.6" lengthAdjust="spacingAndGlyphs">E</text>
<text x="44.3" y="0.0" font-size="14.0">[</text>
<text x="58.4" y="0.0" font-size="14.0">x</text>
<text x="66.2" y="2.6" font-size="9.8">k</text>
<text x="72.4" y="0.0" font-size="14.0" textLength="3.0" lengthAdjust="spacingAndGlyphs">-</text>
<text x="76.5" y="0.0" font-size="14.0">x</text>
<text x="84.2" y="0.0" font-size="14.0">*</text>
<text x="100.6" y="-4.8" font-size="9.8" textLength="4.6" lengthAdjust="spacingAndGlyphs">2</text>
<text x="106.0" y="0.0" font-size="14.0">]</text>
<text x="109.6" y="0.0" font-size="14.0">)</text>
<path d="M51.5,-10.2 V3.0 M55.8,-10.2 V3.0 M92.9,-10.2 V3.0 M97.7,-10.2 V3.0" stroke="#111" stroke-width="1.15" fill="none"/>
</g>
</g>
</g></svg></body></html>
